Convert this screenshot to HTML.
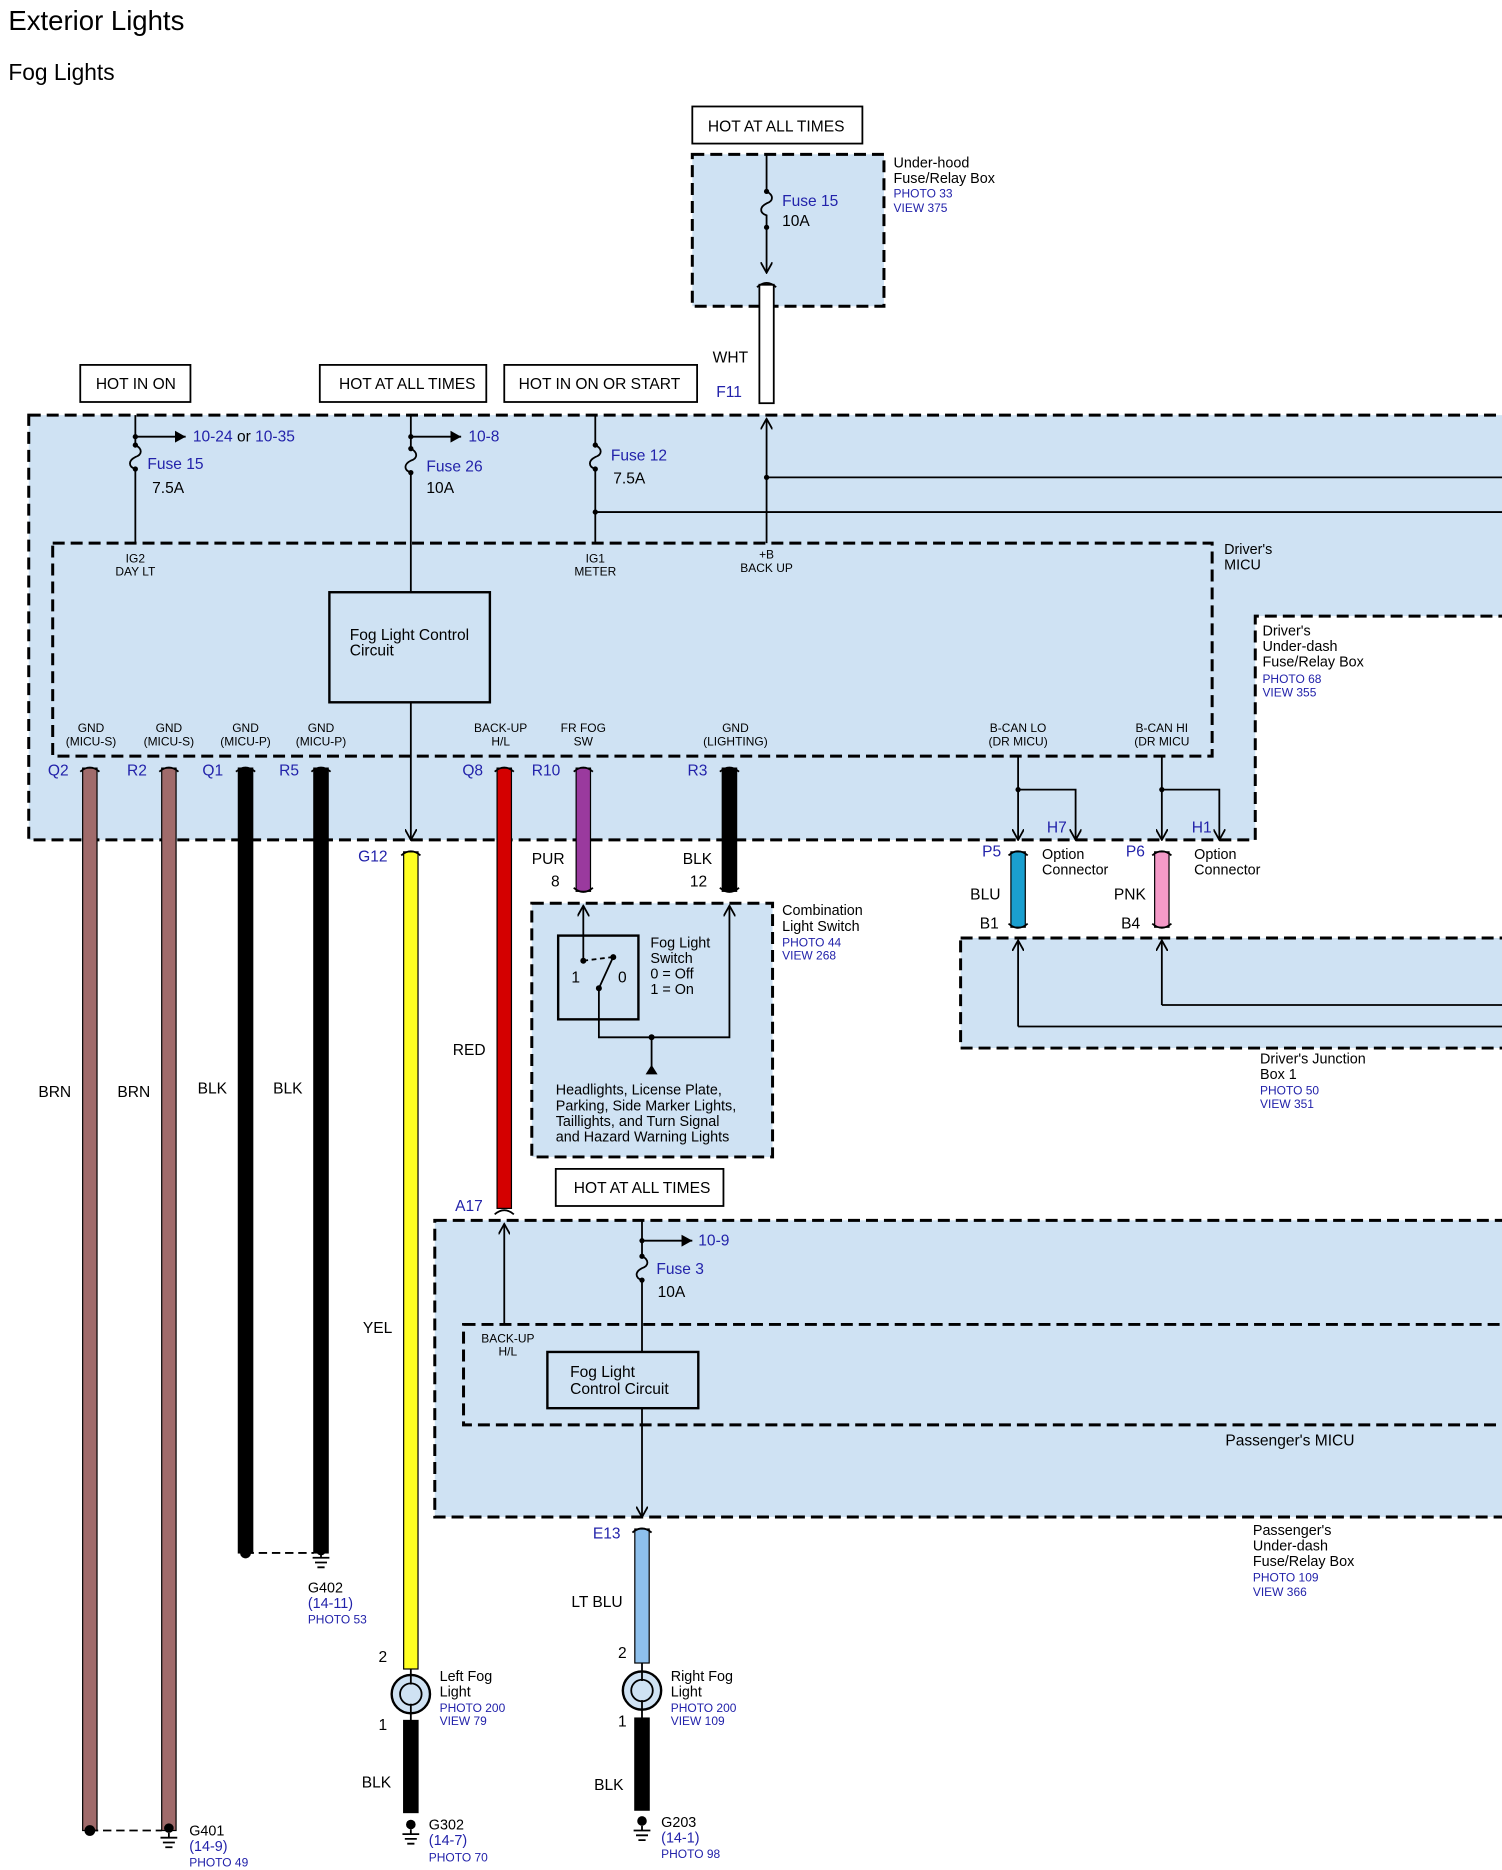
<!DOCTYPE html>
<html><head><meta charset="utf-8"><style>
html,body{margin:0;padding:0;background:#fff}
svg{display:block}
text{font-family:"Liberation Sans",Arial,sans-serif;fill:#000}
.b,.b text{fill:#2222aa}
.s{font-size:10px}
.m{font-size:13px}
.bx{fill:#cfe2f3;stroke:#000;stroke-width:2.5;stroke-dasharray:10,5}
.ln{stroke:#000;stroke-width:1.5;fill:none}
</style></head><body>
<svg width="1502" height="1870" viewBox="0 0 1254 1563" preserveAspectRatio="none" xmlns="http://www.w3.org/2000/svg">
<defs>
<marker id="ar" markerWidth="10" markerHeight="10" refX="9" refY="5" orient="auto" markerUnits="userSpaceOnUse"><path d="M0,0 L9,5 L0,10" fill="none" stroke="#000" stroke-width="1.5"/></marker>
<marker id="af" markerWidth="10" markerHeight="10" refX="9" refY="5" orient="auto" markerUnits="userSpaceOnUse"><path d="M0,0 L9,5 L0,10z" fill="#000"/></marker>
</defs>
<rect width="1254" height="1563" fill="#fff"/>
<text x="7" y="25" font-size="23">Exterior Lights</text>
<text x="7" y="67" font-size="19">Fog Lights</text>

<!-- under-hood -->
<rect x="578" y="89" width="142" height="31" fill="#fff" stroke="#000" stroke-width="1.5"/>
<text x="591" y="110" class="m">HOT AT ALL TIMES</text>
<rect x="578" y="129" width="160" height="127" class="bx"/>
<text x="746" y="140" font-size="12">Under-hood</text><text x="746" y="153" font-size="12">Fuse/Relay Box</text>
<text x="746" y="165" class="s b">PHOTO 33</text><text x="746" y="177" class="s b">VIEW 375</text>
<path class="ln" d="M640,129 V160 c6,3 6,8 0,10 c-6,3 -6,8 0,10 V228" marker-end="url(#ar)"/>
<circle cx="640" cy="160" r="2.2"/><circle cx="640" cy="190" r="2.2"/>
<text x="653" y="172" class="m b">Fuse 15</text><text x="653" y="189" class="m">10A</text>
<rect x="634" y="238" width="12" height="99" fill="#fff" stroke="#000" stroke-width="1.5"/>
<text x="595" y="303" class="m">WHT</text><text x="598" y="332" class="m b">F11</text>

<rect x="67" y="305" width="92" height="31" fill="#fff" stroke="#000" stroke-width="1.5"/><text x="80" y="325" class="m">HOT IN ON</text>
<rect x="267" y="305" width="139" height="31" fill="#fff" stroke="#000" stroke-width="1.5"/><text x="283" y="325" class="m">HOT AT ALL TIMES</text>
<rect x="421" y="305" width="161" height="31" fill="#fff" stroke="#000" stroke-width="1.5"/><text x="433" y="325" class="m">HOT IN ON OR START</text>

<!-- Driver's under-dash box -->
<path d="M24,347 H1256 V515 H1048 V702 H24 Z" class="bx"/>
<rect x="44" y="454" width="968" height="178" fill="none" stroke="#000" stroke-width="2.5" stroke-dasharray="10,5"/>
<text x="1022" y="463" font-size="12">Driver's</text><text x="1022" y="476" font-size="12">MICU</text>
<text x="1054" y="531" font-size="12">Driver's</text><text x="1054" y="544" font-size="12">Under-dash</text><text x="1054" y="557" font-size="12">Fuse/Relay Box</text>
<text x="1054" y="571" class="s b">PHOTO 68</text><text x="1054" y="582" class="s b">VIEW 355</text>

<path class="ln" d="M113,347 V372 c6,3 6,8 0,10 c-6,3 -6,8 0,10 V454"/><circle cx="113" cy="372" r="2.2"/><circle cx="113" cy="392" r="2.2"/><circle cx="113" cy="365" r="2.2"/>
<path class="ln" d="M113,365 H155" marker-end="url(#af)"/>
<text x="161" y="369" class="m b">10-24 <tspan fill="#000">or</tspan> 10-35</text>
<text x="123" y="392" class="m b">Fuse 15</text><text x="127" y="412" class="m">7.5A</text>

<path class="ln" d="M343,347 V375 c6,3 6,8 0,10 c-6,3 -6,8 0,10 V495"/><circle cx="343" cy="375" r="2.2"/><circle cx="343" cy="395" r="2.2"/><circle cx="343" cy="365" r="2.2"/>
<path class="ln" d="M343,365 H385" marker-end="url(#af)"/>
<text x="391" y="369" class="m b">10-8</text>
<text x="356" y="394" class="m b">Fuse 26</text><text x="356" y="412" class="m">10A</text>

<path class="ln" d="M497,347 V372 c6,3 6,8 0,10 c-6,3 -6,8 0,10 V454"/><circle cx="497" cy="372" r="2.2"/><circle cx="497" cy="392" r="2.2"/><circle cx="497" cy="428" r="2.2"/>
<path class="ln" d="M497,428 H1256"/>
<text x="510" y="385" class="m b">Fuse 12</text><text x="512" y="404" class="m">7.5A</text>
<path class="ln" d="M640,454 V350" marker-end="url(#ar)"/><circle cx="640" cy="399" r="2.2"/><path class="ln" d="M640,399 H1256"/>

<text x="113" y="470" class="s" text-anchor="middle">IG2</text><text x="113" y="481" class="s" text-anchor="middle">DAY LT</text>
<text x="497" y="470" class="s" text-anchor="middle">IG1</text><text x="497" y="481" class="s" text-anchor="middle">METER</text>
<text x="640" y="467" class="s" text-anchor="middle">+B</text><text x="640" y="478" class="s" text-anchor="middle">BACK UP</text>

<rect x="275" y="495" width="134" height="92" fill="#cfe2f3" stroke="#000" stroke-width="2"/>
<text x="292" y="535" class="m">Fog Light Control</text><text x="292" y="548" class="m">Circuit</text>
<path class="ln" d="M343,587 V702" marker-end="url(#ar)"/>

<g class="s" text-anchor="middle">
<text x="76" y="612">GND</text><text x="76" y="623">(MICU-S)</text>
<text x="141" y="612">GND</text><text x="141" y="623">(MICU-S)</text>
<text x="205" y="612">GND</text><text x="205" y="623">(MICU-P)</text>
<text x="268" y="612">GND</text><text x="268" y="623">(MICU-P)</text>
<text x="418" y="612">BACK-UP</text><text x="418" y="623">H/L</text>
<text x="487" y="612">FR FOG</text><text x="487" y="623">SW</text>
<text x="614" y="612">GND</text><text x="614" y="623">(LIGHTING)</text>
<text x="850" y="612">B-CAN LO</text><text x="850" y="623">(DR MICU)</text>
<text x="970" y="612">B-CAN HI</text><text x="970" y="623">(DR MICU</text>
</g>
<g class="m b"><text x="40" y="648">Q2</text><text x="106" y="648">R2</text><text x="169" y="648">Q1</text><text x="233" y="648">R5</text><text x="386" y="648">Q8</text><text x="444" y="648">R10</text><text x="574" y="648">R3</text><text x="299" y="720">G12</text><text x="380" y="1012">A17</text><text x="495" y="1286">E13</text></g>

<!-- wires -->
<g stroke="#000" stroke-width="1">
<rect x="69" y="642" width="12" height="888" fill="#a06b6b"/>
<rect x="135" y="642" width="12" height="888" fill="#a06b6b"/>
<rect x="199" y="642" width="12" height="656" fill="#000"/>
<rect x="262" y="642" width="12" height="656" fill="#000"/>
<rect x="337" y="712" width="12" height="683" fill="#ffff22"/>
<rect x="415" y="642" width="12" height="368" fill="#d40000"/>
<rect x="481" y="642" width="12" height="103" fill="#9a3a9e"/>
<rect x="603" y="642" width="12" height="103" fill="#000"/>
<rect x="844" y="712" width="12" height="63" fill="#1a9fcf"/>
<rect x="964" y="712" width="12" height="63" fill="#f59ac8"/>
<rect x="530" y="1278" width="12" height="112" fill="#8ec0ec"/>
<rect x="337" y="1438" width="12" height="77" fill="#000"/>
<rect x="530" y="1436" width="12" height="77" fill="#000"/>
</g>
<g class="ln" stroke-width="2">
<path d="M67,645 Q75,638 83,645"/><path d="M133,645 Q141,638 149,645"/><path d="M197,645 Q205,638 213,645"/><path d="M260,645 Q268,638 276,645"/>
<path d="M413,645 Q421,638 429,645"/><path d="M479,645 Q487,638 495,645"/><path d="M601,645 Q609,638 617,645"/>
<path d="M335,715 Q343,708 351,715"/><path d="M842,715 Q850,708 858,715"/><path d="M962,715 Q970,708 978,715"/>
<path d="M413,1015 Q421,1008 429,1015"/><path d="M528,1281 Q536,1274 544,1281"/><path d="M632,240 Q640,233 648,240"/>
<path d="M479,742 Q487,749 495,742"/><path d="M601,742 Q609,749 617,742"/><path d="M842,772 Q850,779 858,772"/><path d="M962,772 Q970,779 978,772"/>
</g>
<g class="m"><text x="32" y="917">BRN</text><text x="98" y="917">BRN</text><text x="165" y="914">BLK</text><text x="228" y="914">BLK</text><text x="378" y="882">RED</text><text x="303" y="1114">YEL</text>
<text x="444" y="722">PUR</text><text x="460" y="741">8</text><text x="570" y="722">BLK</text><text x="576" y="741">12</text>
<text x="810" y="752">BLU</text><text x="818" y="776">B1</text><text x="930" y="752">PNK</text><text x="936" y="776">B4</text>
<text x="477" y="1343">LT BLU</text><text x="302" y="1494">BLK</text><text x="496" y="1496">BLK</text>
<text x="316" y="1389">2</text><text x="316" y="1446">1</text><text x="516" y="1386">2</text><text x="516" y="1443">1</text></g>

<!-- grounds -->
<circle cx="205" cy="1298" r="4.5"/><path class="ln" d="M205,1298 H262" stroke-dasharray="7,4"/>
<g stroke="#000" stroke-width="1.5"><path d="M268,1292 V1302 M261,1302 H275 M263,1306 H273 M265,1310 H271"/></g>
<circle cx="268" cy="1296" r="4"/>
<text x="257" y="1331" font-size="12">G402</text><text x="257" y="1344" font-size="12" class="b">(14-11)</text><text x="257" y="1357" class="s b">PHOTO 53</text>
<circle cx="75" cy="1530" r="4.5"/><path class="ln" d="M75,1530 H135" stroke-dasharray="7,4"/>
<circle cx="141" cy="1528" r="4"/><g stroke="#000" stroke-width="1.5"><path d="M141,1532 V1536 M134,1536 H148 M136,1540 H146 M138,1544 H144"/></g>
<text x="158" y="1534" font-size="12">G401</text><text x="158" y="1547" font-size="12" class="b">(14-9)</text><text x="158" y="1560" class="s b">PHOTO 49</text>
<circle cx="343" cy="1525" r="4"/><g stroke="#000" stroke-width="1.5"><path d="M343,1529 V1533 M336,1533 H350 M338,1537 H348 M340,1541 H346"/></g>
<text x="358" y="1529" font-size="12">G302</text><text x="358" y="1542" font-size="12" class="b">(14-7)</text><text x="358" y="1556" class="s b">PHOTO 70</text>
<circle cx="536" cy="1522" r="4"/><g stroke="#000" stroke-width="1.5"><path d="M536,1526 V1530 M529,1530 H543 M531,1534 H541 M533,1538 H539"/></g>
<text x="552" y="1527" font-size="12">G203</text><text x="552" y="1540" font-size="12" class="b">(14-1)</text><text x="552" y="1553" class="s b">PHOTO 98</text>

<!-- fog lights -->
<circle cx="343" cy="1416" r="16" fill="#cfe2f3" stroke="#000" stroke-width="2"/><circle cx="343" cy="1416" r="9" fill="none" stroke="#000" stroke-width="1.5"/>
<path class="ln" d="M343,1395 V1408 M343,1424 V1438"/>
<circle cx="536" cy="1413" r="16" fill="#cfe2f3" stroke="#000" stroke-width="2"/><circle cx="536" cy="1413" r="9" fill="none" stroke="#000" stroke-width="1.5"/>
<path class="ln" d="M536,1390 V1405 M536,1421 V1436"/>
<text x="367" y="1405" font-size="12">Left Fog</text><text x="367" y="1418" font-size="12">Light</text><text x="367" y="1431" class="s b">PHOTO 200</text><text x="367" y="1442" class="s b">VIEW 79</text>
<text x="560" y="1405" font-size="12">Right Fog</text><text x="560" y="1418" font-size="12">Light</text><text x="560" y="1431" class="s b">PHOTO 200</text><text x="560" y="1442" class="s b">VIEW 109</text>

<!-- B-CAN -->
<circle cx="850" cy="660" r="2.2"/><path class="ln" d="M850,632 V702" marker-end="url(#ar)"/><path class="ln" d="M850,660 H898 V702" marker-end="url(#ar)"/>
<circle cx="970" cy="660" r="2.2"/><path class="ln" d="M970,632 V702" marker-end="url(#ar)"/><path class="ln" d="M970,660 H1018 V702" marker-end="url(#ar)"/>
<text x="874" y="696" class="m b">H7</text><text x="995" y="696" class="m b">H1</text>
<text x="820" y="716" class="m b">P5</text><text x="940" y="716" class="m b">P6</text>
<text x="870" y="718" font-size="12">Option</text><text x="870" y="731" font-size="12">Connector</text>
<text x="997" y="718" font-size="12">Option</text><text x="997" y="731" font-size="12">Connector</text>

<path d="M802,784 H1256 V876 H802 Z" class="bx"/>
<path class="ln" d="M850,858 V786" marker-end="url(#ar)"/><path class="ln" d="M850,858 H1256"/>
<path class="ln" d="M970,840 V786" marker-end="url(#ar)"/><path class="ln" d="M970,840 H1256"/>
<text x="1052" y="889" font-size="12">Driver's Junction</text><text x="1052" y="902" font-size="12">Box 1</text><text x="1052" y="915" class="s b">PHOTO 50</text><text x="1052" y="926" class="s b">VIEW 351</text>

<!-- combination switch -->
<rect x="444" y="755" width="201" height="212" class="bx"/>
<text x="653" y="765" font-size="12">Combination</text><text x="653" y="778" font-size="12">Light Switch</text><text x="653" y="791" class="s b">PHOTO 44</text><text x="653" y="802" class="s b">VIEW 268</text>
<rect x="466" y="782" width="67" height="70" fill="none" stroke="#000" stroke-width="2"/>
<path class="ln" d="M487,803 V757" marker-end="url(#ar)"/><circle cx="487" cy="803" r="2.5"/>
<path class="ln" d="M487,803 L511,800" stroke-dasharray="4,3"/><circle cx="512" cy="800" r="2.5"/>
<path class="ln" d="M500,826 L511,802"/><circle cx="500" cy="826" r="2.5"/>
<path class="ln" d="M500,826 V867 H609 V757" marker-end="url(#ar)"/><circle cx="544" cy="867" r="2.5"/>
<path class="ln" d="M544,867 V892"/><path d="M539,898 L544,890 L549,898z" fill="#000"/>
<text x="477" y="821" class="m">1</text><text x="516" y="821" class="m">0</text>
<text x="543" y="792" font-size="12">Fog Light</text><text x="543" y="805" font-size="12">Switch</text><text x="543" y="818" font-size="12">0 = Off</text><text x="543" y="831" font-size="12">1 = On</text>
<g font-size="12"><text x="464" y="915">Headlights, License Plate,</text><text x="464" y="928">Parking, Side Marker Lights,</text><text x="464" y="941">Taillights, and Turn Signal</text><text x="464" y="954">and Hazard Warning Lights</text></g>

<!-- passenger -->
<rect x="464" y="977" width="140" height="31" fill="#fff" stroke="#000" stroke-width="1.5"/><text x="479" y="997" class="m">HOT AT ALL TIMES</text>
<path d="M363,1020 H1256 V1268 H363 Z" class="bx"/>
<rect x="387" y="1107" width="869" height="84" fill="none" stroke="#000" stroke-width="2.5" stroke-dasharray="10,5"/>
<path class="ln" d="M421,1107 V1023" marker-end="url(#ar)"/>
<text x="424" y="1122" class="s" text-anchor="middle">BACK-UP</text><text x="424" y="1133" class="s" text-anchor="middle">H/L</text>
<path class="ln" d="M536,1020 V1050 c6,3 6,8 0,10 c-6,3 -6,8 0,10 V1130"/><circle cx="536" cy="1037" r="2.2"/><circle cx="536" cy="1050" r="2.2"/><circle cx="536" cy="1070" r="2.2"/>
<path class="ln" d="M536,1037 H578" marker-end="url(#af)"/><text x="583" y="1041" class="m b">10-9</text>
<text x="548" y="1065" class="m b">Fuse 3</text><text x="549" y="1084" class="m">10A</text>
<rect x="457" y="1130" width="126" height="47" fill="#cfe2f3" stroke="#000" stroke-width="2"/>
<text x="476" y="1151" class="m">Fog Light</text><text x="476" y="1165" class="m">Control Circuit</text>
<path class="ln" d="M536,1177 V1268" marker-end="url(#ar)"/>
<text x="1023" y="1208" class="m">Passenger's MICU</text>
<text x="1046" y="1283" font-size="12">Passenger's</text><text x="1046" y="1296" font-size="12">Under-dash</text><text x="1046" y="1309" font-size="12">Fuse/Relay Box</text><text x="1046" y="1322" class="s b">PHOTO 109</text><text x="1046" y="1334" class="s b">VIEW 366</text>
</svg>
</body></html>
